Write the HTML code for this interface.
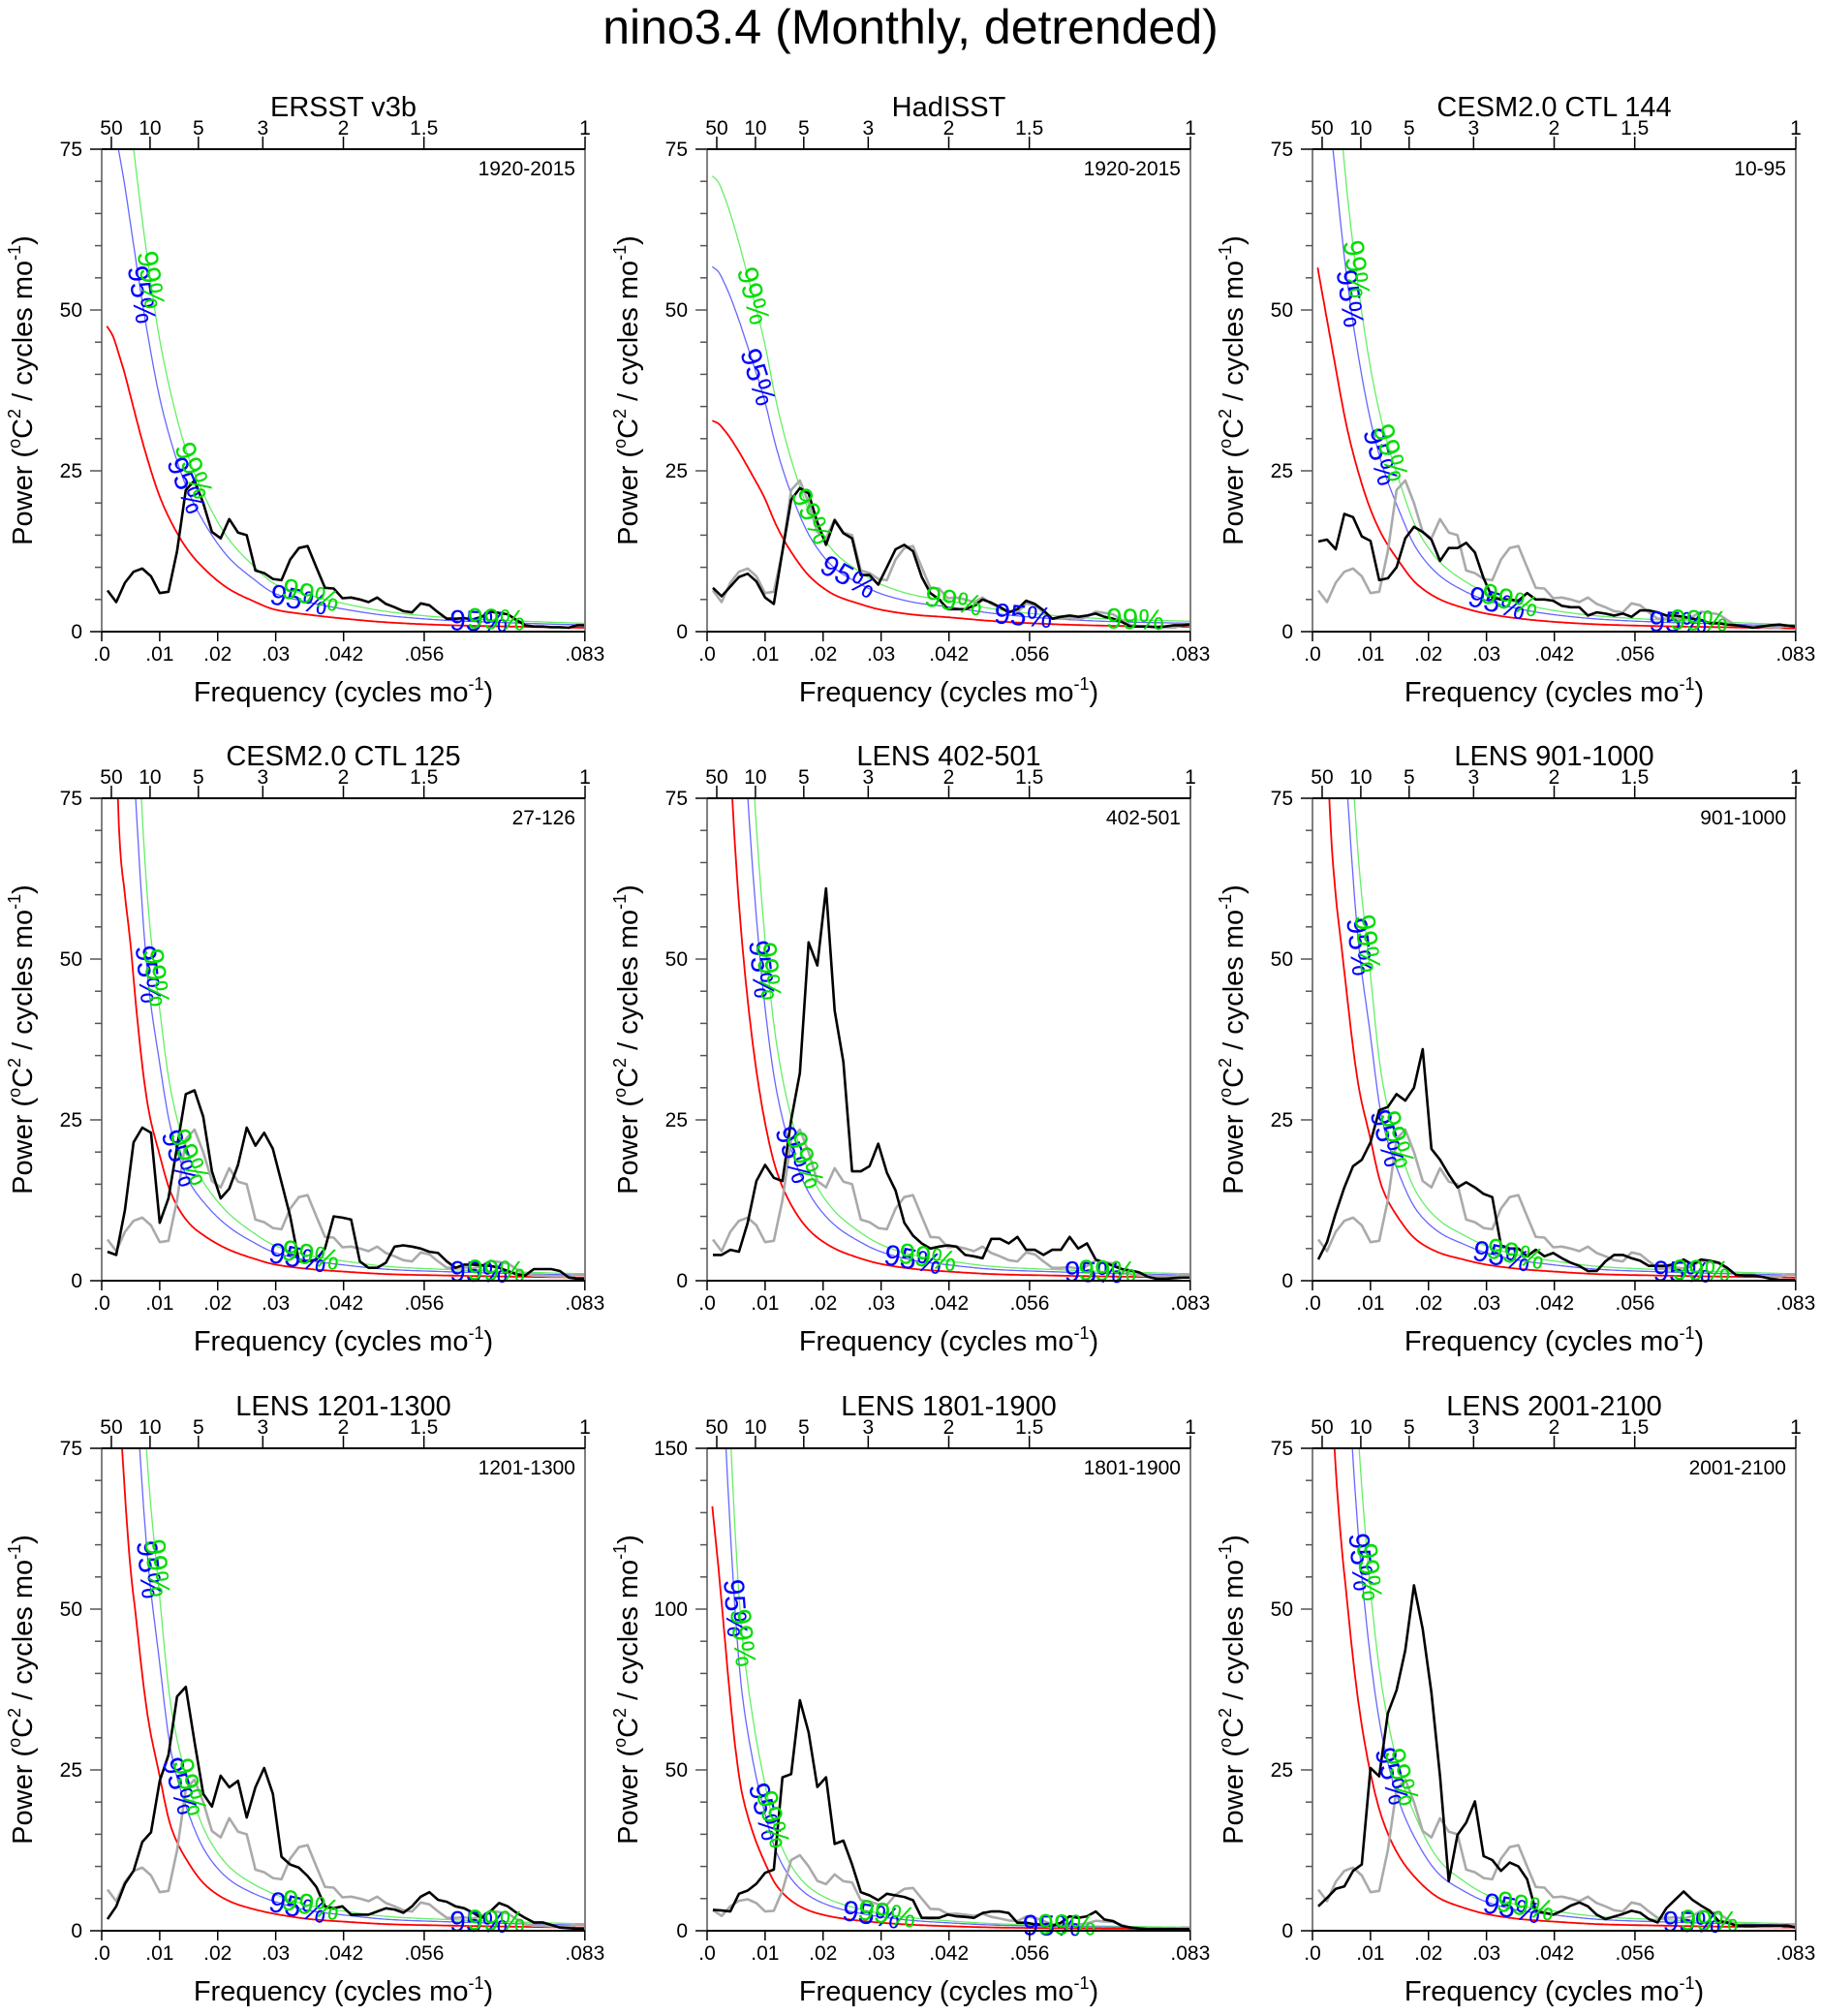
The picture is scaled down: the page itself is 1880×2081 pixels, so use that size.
<!DOCTYPE html>
<html><head><meta charset="utf-8"><style>
html,body{margin:0;padding:0;background:#fff;}
svg{display:block;font-family:"Liberation Sans",Arial,sans-serif;}
</style></head><body>
<svg id="fig" width="1880" height="2081" viewBox="0 0 1880 2081" xmlns="http://www.w3.org/2000/svg">
<rect width="1880" height="2081" fill="#fff"/>
<text x="940" y="45" font-size="50" text-anchor="middle">nino3.4 (Monthly, detrended)</text>
</svg>
<script>
// frequency categories (cycles/month)
const F = [0.001,0.0025,0.004,0.0055,0.007,0.0085,0.010,0.0115,0.013,0.0145,0.016,0.0175,0.019,0.0205,0.022,0.0235,0.025,0.0265,0.028,0.0295,0.031,0.0325,0.034,0.0355,0.037,0.0385,0.040,0.0415,0.043,0.0445,0.046,0.0475,0.049,0.0505,0.052,0.0535,0.055,0.0565,0.058,0.0595,0.061,0.0625,0.064,0.0655,0.067,0.0685,0.070,0.0715,0.073,0.0745,0.076,0.0775,0.079,0.0805,0.082,0.0833];
const ERSST = [6.4,4.6,7.6,9.3,9.8,8.6,6.0,6.2,12.5,22,23.5,20,15.5,14.5,17.5,15.4,15,9.5,9.1,8.2,8.0,11.2,13,13.3,10,6.8,6.7,5.2,5.3,5.0,4.6,5.3,4.3,3.8,3.2,3.0,4.4,4.1,3.0,2.0,2.0,2.1,1.9,2.3,3.1,2.9,2.7,1.8,1.0,0.8,0.8,0.7,0.7,0.6,1.0,1.0];
const HADISST = [6.8,5.5,7,8.5,9,7.8,5.3,4.3,12.5,20.5,22.3,21.5,17,13.5,17.3,15.3,14.5,8.8,8.8,7.3,10,12.8,13.5,12.5,8.5,6,5,3.5,3.5,3.5,4,5,4.5,3.8,3,3.5,4.8,4.3,3.3,2,2.3,2.5,2.3,2.5,2.8,2.3,2,1.5,.8,.8,.8,.7,.8,1,1,1.1];
const CTL144 = [14,14.3,12.8,18.3,17.8,14.8,14.1,8,8.3,10,14.5,16.3,15.5,14.3,11,13,13,13.8,12.3,8.3,5.3,5,5,4.8,6,5,5,4.8,4,3.8,3.8,2.5,3,2.8,2.5,2.8,2.3,3.3,3.3,3,2.5,2.5,2.3,2,1.8,1.3,1.3,1.1,1,.8,.6,.8,1,1.1,.9,.8];
const CTL125 = [4.5,4,11,21.5,23.8,23,9,12.8,20.8,29,29.6,25.5,17,12.8,14.3,18,23.8,21,23,20.5,15.3,10,3,3,3.3,5,10,9.8,9.5,3,2,2,2.8,5.3,5.5,5.3,5,4.5,4.3,3,2,2.5,2.5,2.4,2.3,2,1.5,1,.8,1.8,1.8,1.8,1.5,.5,.3,.3];
const L402 = [4,4,4.8,4.5,9,15.5,18,16,15.5,25,32.3,52.6,49,61,42,34,17,17,17.8,21.3,16.8,14,9,7,5.8,5,5.3,5.5,5.3,4,3.8,3.5,6.5,6.5,5.8,6.8,4.8,4.8,4,4.8,4.8,6.8,5,5.8,3.3,2.8,2.3,1.8,1.6,1.3,.6,.3,.3,.4,.5,.5];
const L901 = [3.3,6,10.5,14.5,17.8,18.8,21.5,26.5,27,29,28,30,36,20.5,18.8,16.5,14.5,15.3,14.5,13.5,13,5.5,5,5,3.8,4.8,3.8,4.3,3.5,2.8,2.3,1.5,1.5,3,4,4,3.5,3.1,2.3,2.3,2.3,2.6,3.3,2.5,3.3,3.1,2.8,2,.9,.8,.8,.6,.3,.1,.1,.1];
const L1201 = [1.8,3.8,7.3,9.3,13.8,15.3,23.3,27.3,36.4,37.9,29.4,21.3,19.3,24.1,22.3,23.3,17.6,22.3,25.3,21.3,11.5,10.3,9.8,8.5,6.8,3.8,3.5,3.8,2.5,2.5,2.5,3,3.5,3.3,2.8,3.8,5.3,6,4.8,4.5,3.8,3.5,2.8,2,3,4.3,3.8,2.8,2,1.3,1.3,.9,.5,.4,.3,.3];
const L1801 = [6.5,6.3,6,11.5,12.5,14.6,18,19,47.7,48.7,71.7,61.7,44.7,47.7,27,28,20.6,12,11,9.5,11.5,11,10.5,9.5,4,4,4,5,4.5,4.3,4,5.5,6,6,5.5,2.5,2.5,2,2,1.5,2.5,4.5,4,4.5,6,3.5,3,1.5,1,.7,.5,.5,.5,.5,.5,.5];
const L2001 = [3.8,5.1,6.5,6.9,9.3,10.3,25.3,24,33.8,37.4,43.6,53.7,46.9,37,24,7.7,14.9,16.8,20.1,11.6,11,9.3,10.6,10,8,3.1,2.8,2.5,3.1,3.9,4.4,3.8,2.5,1.8,2.2,2.6,3.1,2.8,1.8,1.3,3.5,4.8,6.1,4.8,3.9,3.1,1.5,1.3,.8,.8,.8,.8,.8,.8,.8,.5];
// red-noise fit sampled at RF
const RF = [0.0009,0.002,0.003,0.004,0.005,0.006,0.008,0.010,0.012,0.015,0.018,0.022,0.026,0.030,0.036,0.042,0.050,0.060,0.070,0.083];
const RED1 = [47.5,45.8,43,40,36.5,33,26.5,21,17,12.5,9.5,6.6,4.8,3.4,2.6,2.0,1.4,1.0,0.8,0.6];
const RED2 = [32.8,32.3,31.3,30.1,28.7,27.2,24,20.6,16.4,11.7,8.3,5.7,4.4,3.4,2.6,2.2,1.6,1.15,0.9,0.75];
const RED3 = [56.6,51,46,41,36,31.5,24.5,19,15,10.8,7.4,5,3.7,2.8,2,1.5,1.1,.85,.7,.5];
const RED4 = [150,105,70,60,52,42,27,19.5,13.5,9,6.8,4.8,3.5,2.5,1.8,1.4,1.0,.8,.65,.5];
const RED5 = [300,180,115,82,65,53,36,24.5,17,11,7.5,5,3.6,2.6,1.8,1.4,1,.8,.65,.5];
const RED6 = [170,105,73,60,52,44,30,22,14.5,9.5,6.3,4.3,3.3,2.5,1.8,1.4,1,.8,.65,.5];
const RED7 = [200,120,85,68,56,48,33,24,16,10.5,7,4.6,3.4,2.6,1.8,1.4,1,.8,.65,.5];
const RED8 = [132,112,92,72,55,43,30,21,14,8.7,6,4.2,3.2,2.5,1.8,1.4,1.0,.8,.65,.5];
const RED9 = [220,130,90,72,60,51,35,24.5,17.5,11.5,8,5,3.6,2.6,1.8,1.4,1,.8,.65,.5];
// chi-square multipliers for significance curves
const SIG95 = 1.73;
const SIG99 = 2.16;
// axis tick labels
const XTICKS = [0,0.01,0.02,0.03,0.0417,0.0556,0.0833];
const XTICKLABELS = [".0",".01",".02",".03",".042",".056",".083"];
const PERIODS = [50,10,5,3,2,1.5,1];
const PERIODLABELS = ["50","10","5","3","2","1.5","1"];
// panel metadata
const TITLES = ["ERSST v3b","HadISST","CESM2.0 CTL 144","CESM2.0 CTL 125","LENS 402-501","LENS 901-1000","LENS 1201-1300","LENS 1801-1900","LENS 2001-2100"];
const PERIODTEXT = ["1920-2015","1920-2015","10-95","27-126","402-501","901-1000","1201-1300","1801-1900","2001-2100"];
const YMAX = [75,75,75,75,75,75,75,150,75];
const BLACK = [ERSST,HADISST,CTL144,CTL125,L402,L901,L1201,L1801,L2001];
const REDS = [RED1,RED2,RED3,RED4,RED5,RED6,RED7,RED8,RED9];
const LAB95 = [[.0068,.0145,.034,.065],[.0087,.0243,.0545],[.0064,.0116,.0318,.063],[.0079,.0134,.0338,.065],[.0093,.0148,.0355,.0666],[.0080,.0128,.0326,.0637],[.0081,.0134,.0338,.065],[.0048,.0099,.0283,.0594],[.0083,.0136,.0344,.0654]];
const LAB99 = [[.0084,.0158,.036,.068],[.0079,.018,.0425,.0738],[.0075,.0134,.034,.0666],[.0093,.0151,.036,.068],[.0105,.0168,.038,.069],[.0094,.0145,.035,.067],[.0095,.0151,.036,.068],[.0061,.0113,.031,.062],[.0097,.0153,.0367,.0684]];

const NS='http://www.w3.org/2000/svg';
const svg=document.getElementById('fig');
const COLX=[105,730,1355], ROWY=[154,824,1495], W=499, H=498, FMAX=0.08333;
function mk(tag,attrs,parent){const e=document.createElementNS(NS,tag);for(const k in attrs)e.setAttribute(k,attrs[k]);(parent||svg).appendChild(e);return e;}
function redAt(rv,f){
  const L=rv.map(v=>Math.log(v));let i=0;
  if(f<=RF[0])return rv[0];
  while(i<RF.length-2&&f>RF[i+1])i++;
  const x0=RF[i],x1=RF[i+1],h=x1-x0,t=(f-x0)/h;
  const m=j=>{if(j<=0)return (L[1]-L[0])/(RF[1]-RF[0]);if(j>=RF.length-1)return (L[j]-L[j-1])/(RF[j]-RF[j-1]);return (L[j+1]-L[j-1])/(RF[j+1]-RF[j-1]);};
  const t2=t*t,t3=t2*t;
  const y=(2*t3-3*t2+1)*L[i]+(t3-2*t2+t)*h*m(i)+(-2*t3+3*t2)*L[i+1]+(t3-t2)*h*m(i+1);
  return Math.exp(y);
}
for(let p=0;p<9;p++){
  const x0=COLX[p%3], y0=ROWY[Math.floor(p/3)], ymax=YMAX[p];
  const xs=f=>x0+f/FMAX*W, ys=v=>y0+H-v/ymax*H;
  const g=mk('g',{});
  
  
  const cid='clip'+p;
  const cp=mk('clipPath',{id:cid},g);mk('rect',{x:x0,y:y0,width:W,height:H},cp);
  const plot=mk('g',{'clip-path':'url(#'+cid+')'},g);
  const rv=REDS[p];
  const curve=(mult)=>{let d='';for(let k=0;k<=400;k++){const f=RF[0]+(FMAX-RF[0])*k/400;const v=redAt(rv,Math.min(f,RF[RF.length-1]))*mult;d+=(k?'L':'M')+xs(f).toFixed(1)+' '+Math.max(ys(v),y0-50).toFixed(1);}return d;};
  const gl=mk('path',{d:curve(SIG99),fill:'none',stroke:'#66ee66','stroke-width':1.3},plot);
  
  const bl=mk('path',{d:curve(SIG95),fill:'none',stroke:'#6666ff','stroke-width':1.3},plot);
  
  const rl=mk('path',{d:curve(1),fill:'none',stroke:'#ff0000','stroke-width':1.8},plot);
  
  const line=(arr)=>arr.map((v,i)=>(i?'L':'M')+xs(F[i]).toFixed(1)+' '+ys(v).toFixed(1)).join('');
  if(p>0){const gr=mk('path',{d:line(ERSST),fill:'none',stroke:'#aaaaaa','stroke-width':2.6,'stroke-linejoin':'round'},plot);
    }
  const bk=mk('path',{d:line(BLACK[p]),fill:'none',stroke:'#000','stroke-width':2.6,'stroke-linejoin':'round'},plot);
  
  const addLab=(fl,mult,txt,col,nm)=>{fl.forEach(f=>{
    const v=redAt(rv,f)*mult, px=xs(f), py=ys(v);
    const df=0.0004, py2=ys(redAt(rv,f+df)*mult), px2=xs(f+df);
    const ang=Math.atan2(py2-py,px2-px)*180/Math.PI;
    if(py<y0||py>y0+H)return;
    const t=mk('text',{x:px.toFixed(1),y:py.toFixed(1),fill:col,'font-size':30,'text-anchor':'middle','dominant-baseline':'central',transform:'rotate('+ang.toFixed(1)+' '+px.toFixed(1)+' '+py.toFixed(1)+')'},g);
    t.textContent=txt;});};
  addLab(LAB95[p],SIG95,'95%','#0000ff','label-95');
  addLab(LAB99[p],SIG99,'99%','#00dd00','label-99');
  mk('line',{x1:x0,y1:y0,x2:x0,y2:y0+H,stroke:'#808080','stroke-width':2},g);
  mk('line',{x1:x0+W,y1:y0,x2:x0+W,y2:y0+H,stroke:'#808080','stroke-width':2},g);
  mk('line',{x1:x0-12,y1:y0,x2:x0+W,y2:y0,stroke:'#000','stroke-width':2},g);
  mk('line',{x1:x0-12,y1:y0+H,x2:x0+W,y2:y0+H,stroke:'#000','stroke-width':2},g);
  const step=ymax/15;
  for(let k=0;k<=15;k++){const yy=ys(k*step);const major=k%5===0;
    mk('line',{x1:x0-(major?12:7),y1:yy,x2:x0,y2:yy,stroke:'#555','stroke-width':1.5},g);
    if(major){const t=mk('text',{x:x0-20,y:yy+7,'font-size':21,'text-anchor':'end'},g);t.textContent=String(k*step);
      }}
  XTICKS.forEach((f,i)=>{const xx=xs(f);mk('line',{x1:xx,y1:y0+H,x2:xx,y2:y0+H+10,stroke:'#000','stroke-width':1.5},g);
    const t=mk('text',{x:xx,y:y0+H+30,'font-size':21,'text-anchor':'middle'},g);t.textContent=XTICKLABELS[i];
    });
  PERIODS.forEach((P,i)=>{const xx=xs(1/(12*P));mk('line',{x1:xx,y1:y0-13,x2:xx,y2:y0,stroke:'#000','stroke-width':1.5},g);
    const t=mk('text',{x:xx,y:y0-15,'font-size':21,'text-anchor':'middle'},g);t.textContent=PERIODLABELS[i];
    });
  const tt=mk('text',{x:x0+W/2,y:y0-34,'font-size':29,'text-anchor':'middle'},g);tt.textContent=TITLES[p];
  
  const pt=mk('text',{x:x0+W-10,y:y0+27,'font-size':21,'text-anchor':'end'},g);pt.textContent=PERIODTEXT[p];
  
  const xt=mk('text',{x:x0+W/2,y:y0+H+72,'font-size':29,'text-anchor':'middle'},g);
  
  xt.innerHTML='Frequency (cycles mo<tspan font-size="18" dy="-12">-1</tspan><tspan dy="12">)</tspan>';
  const yc=y0+H/2, yx=x0-72;
  const yt=mk('text',{x:yx,y:yc,'font-size':29,'text-anchor':'middle',transform:'rotate(-90 '+yx+' '+yc+')'},g);
  
  yt.innerHTML='Power (<tspan font-size="18" dy="-12">o</tspan><tspan dy="12">C</tspan><tspan font-size="18" dy="-12">2</tspan><tspan dy="12"> / cycles mo</tspan><tspan font-size="18" dy="-12">-1</tspan><tspan dy="12">)</tspan>';
}
</script>
</body></html>
